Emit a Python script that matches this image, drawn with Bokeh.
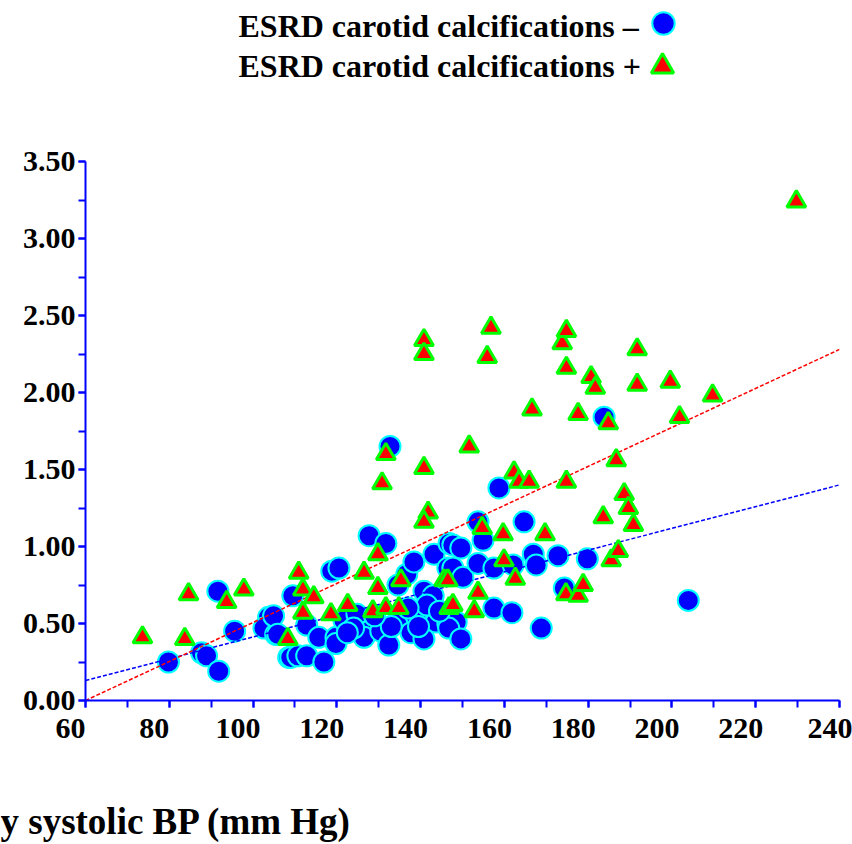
from bokeh.plotting import figure
from bokeh.models import (Range1d, SingleIntervalTicker, PrintfTickFormatter, Label,
                          Legend, LegendItem)
from bokeh.layouts import column
from bokeh.core.properties import value
from bokeh.embed import file_html
from bokeh.resources import INLINE

# ---------------- data ----------------
neg_sbp = [79.8, 87.7, 88.9, 91.8, 91.6, 95.6, 103.7, 102.6, 105.4, 108.5,
           109.0, 110.7, 112.8, 116.9, 104.9, 105.9, 109.5, 112.8, 115.7, 119.8,
           119.8, 121.7, 124.8, 118.8, 120.5, 127.7, 131.7, 127.7, 126.5, 130.5,
           132.4, 134.8, 137.7, 138.9, 140.8, 143.7, 146.5, 136.7, 138.4, 134.6,
           140.8, 143.0, 143.2, 146.8, 146.5, 147.7, 149.6, 147.7, 150.1, 148.5,
           146.7, 149.6, 153.7, 154.9, 153.7, 157.5, 162.1, 158.7, 164.7, 166.9,
           167.6, 172.8, 179.8, 174.3, 157.5, 161.8, 168.8, 183.8, 132.7, 203.9,
           133.0, 124.0, 141.5, 137.0, 129.0, 122.5, 144.5, 139.5]
neg_val = [0.25, 0.31, 0.29, 0.19, 0.71, 0.45, 0.54, 0.47, 0.43, 0.28,
           0.28, 0.29, 0.29, 0.25, 0.55, 0.43, 0.68, 0.49, 0.41, 0.41,
           0.37, 0.52, 0.56, 0.84, 0.86, 1.07, 1.02, 0.45, 0.41, 0.45,
           0.36, 0.52, 0.44, 0.55, 0.40, 0.51, 0.50, 0.82, 0.90, 0.75,
           0.71, 0.68, 0.95, 1.02, 0.86, 1.01, 0.99, 0.86, 0.80, 0.51,
           0.47, 0.40, 1.16, 1.04, 0.89, 0.86, 0.88, 1.38, 1.16, 0.95,
           0.88, 0.94, 0.92, 0.73, 0.60, 0.57, 0.47, 1.84, 1.65, 0.65,
           0.48, 0.47, 0.62, 0.60, 0.55, 0.44, 0.58, 0.48]

pos_sbp = [73.6, 83.7, 84.6, 93.7, 97.8, 108.3, 110.9, 111.9, 111.9, 114.5,
           118.6, 122.6, 126.5, 129.8, 129.8, 128.6, 131.7, 134.8, 135.3, 141.8,
           140.8, 145.6, 146.8, 146.5, 147.7, 152.8, 153.7, 154.7, 159.7, 159.9,
           162.6, 169.7, 174.7, 177.6, 178.8, 185.5, 187.2, 183.6, 188.6, 189.6,
           190.8, 186.7, 174.8, 162.3, 163.5, 165.9, 130.8, 140.8, 131.7, 151.6,
           166.6, 177.6, 184.8, 180.7, 181.7, 191.7, 191.7, 174.8, 173.8, 174.8,
           155.9, 156.8, 140.8, 140.8, 199.6, 209.7, 201.8, 229.7]
pos_val = [0.41, 0.40, 0.69, 0.64, 0.72, 0.40, 0.83, 0.72, 0.57, 0.67,
           0.56, 0.62, 0.83, 0.73, 0.95, 0.58, 0.60, 0.60, 0.78, 1.22,
           1.16, 0.78, 0.60, 0.78, 0.62, 0.58, 0.70, 1.12, 1.08, 0.91,
           0.79, 1.08, 0.69, 0.68, 0.75, 0.91, 0.97, 1.19, 1.34, 1.25,
           1.14, 1.56, 1.42, 1.48, 1.42, 1.42, 1.41, 1.51, 1.60, 1.65,
           1.89, 1.86, 1.80, 2.10, 2.03, 2.05, 2.28, 2.16, 2.32, 2.40,
           2.23, 2.42, 2.34, 2.25, 2.07, 1.98, 1.84, 3.24]

fit_sbp = [60, 240]
fit_neg = [0.13, 1.40]
fit_pos = [0.00, 2.28]

legend_neg = "ESRD carotid calcifications \u2013"
legend_pos = "ESRD carotid calcifications +"
x_title = "y systolic BP (mm Hg)"

FONT = "Liberation Serif"
BLUE = "#0000FF"
CIRC = dict(marker="circle", fill_color=BLUE, line_color="#00FFFF", line_width=2)
TRI = dict(marker="triangle", fill_color="#FF0000", line_color="#00FF00", line_width=3)

W = 852
HH = 130          # header (legend) height
FH = 90           # footer (x title) height
MH = 844 - HH - FH


def bare(h):
    f = figure(width=W, height=h, x_range=Range1d(0, W), y_range=Range1d(0, h),
               output_backend="svg", toolbar_location=None, min_border=0,
               x_axis_location=None, y_axis_location=None, frame_align=False)
    f.xgrid.visible = False
    f.ygrid.visible = False
    f.outline_line_color = None
    return f


# ---------------- header: legend text with its swatch on the right ----------------
head = bare(HH)
h_neg = head.scatter(neg_sbp, neg_val, size=21, visible=False, **CIRC)
h_pos = head.scatter(pos_sbp, pos_val, size=19, visible=False, **TRI)
GB = 56  # swatch box; bokeh draws a marker at 0.4 of it
for r, (cx, cy) in ((h_neg, (663, 23)), (h_pos, (662, 66))):
    head.add_layout(Legend(items=[LegendItem(label=value(""), renderers=[r])],
                           location=(cx - GB // 2, HH - (cy + GB // 2)),
                           glyph_width=GB, glyph_height=GB, label_standoff=0,
                           label_width=0, label_height=0, padding=0, margin=0,
                           border_line_color=None, background_fill_alpha=0,
                           inactive_fill_alpha=0))
for txt, ty in ((legend_neg, HH - 25), (legend_pos, HH - 65)):
    head.add_layout(Label(x=238, y=ty, text=txt, text_align="left", text_baseline="middle",
                          text_font=FONT, text_font_style="bold", text_font_size="32px",
                          text_color="black"))

# ---------------- main scatter plot ----------------
p = figure(width=W, height=MH, x_range=Range1d(60, 240), y_range=Range1d(0, 3.5),
           output_backend="svg", toolbar_location=None, frame_align=False,
           min_border_left=85, min_border_right=13, min_border_top=161 - HH,
           min_border_bottom=MH - (161 - HH) - 539)
p.xgrid.visible = False
p.ygrid.visible = False
p.outline_line_color = None

p.xaxis.ticker = SingleIntervalTicker(interval=20, num_minor_ticks=2)
p.yaxis.ticker = SingleIntervalTicker(interval=0.5, num_minor_ticks=2)
p.xaxis.formatter = PrintfTickFormatter(format="%d\u00a0\u00a0\u00a0\u00a0")
p.xaxis.major_label_overrides = {240: "240"}
p.yaxis.formatter = PrintfTickFormatter(format="%.2f")
for ax in (p.xaxis, p.yaxis):
    ax.axis_line_color = BLUE
    ax.axis_line_width = 2
    ax.major_tick_line_color = BLUE
    ax.minor_tick_line_color = BLUE
    ax.major_tick_line_width = 2
    ax.minor_tick_line_width = 2
    ax.major_tick_in = 0
    ax.major_tick_out = 7
    ax.minor_tick_in = 0
    ax.minor_tick_out = 7
    ax.major_label_text_font = FONT
    ax.major_label_text_font_style = "bold"
    ax.major_label_text_font_size = "30px"
    ax.major_label_text_color = "black"
p.xaxis.major_label_standoff = 3
p.yaxis.major_label_standoff = 3

p.scatter(neg_sbp, neg_val, size=21, **CIRC)
p.line(fit_sbp, fit_neg, line_color=BLUE, line_width=1.5, line_dash="4 2")
p.line(fit_sbp, fit_pos, line_color="#FF0000", line_width=1.5, line_dash="4 2")
p.scatter(pos_sbp, pos_val, size=19, **TRI)

# ---------------- footer with the x-axis title ----------------
foot = bare(FH)
foot.add_layout(Label(x=0, y=FH - 67, text=x_title, text_align="left", text_baseline="middle",
                      text_font=FONT, text_font_style="bold", text_font_size="37px",
                      text_color="black"))

layout = column(head, p, foot, spacing=0)
open("out.html", "w").write(file_html(layout, INLINE))
